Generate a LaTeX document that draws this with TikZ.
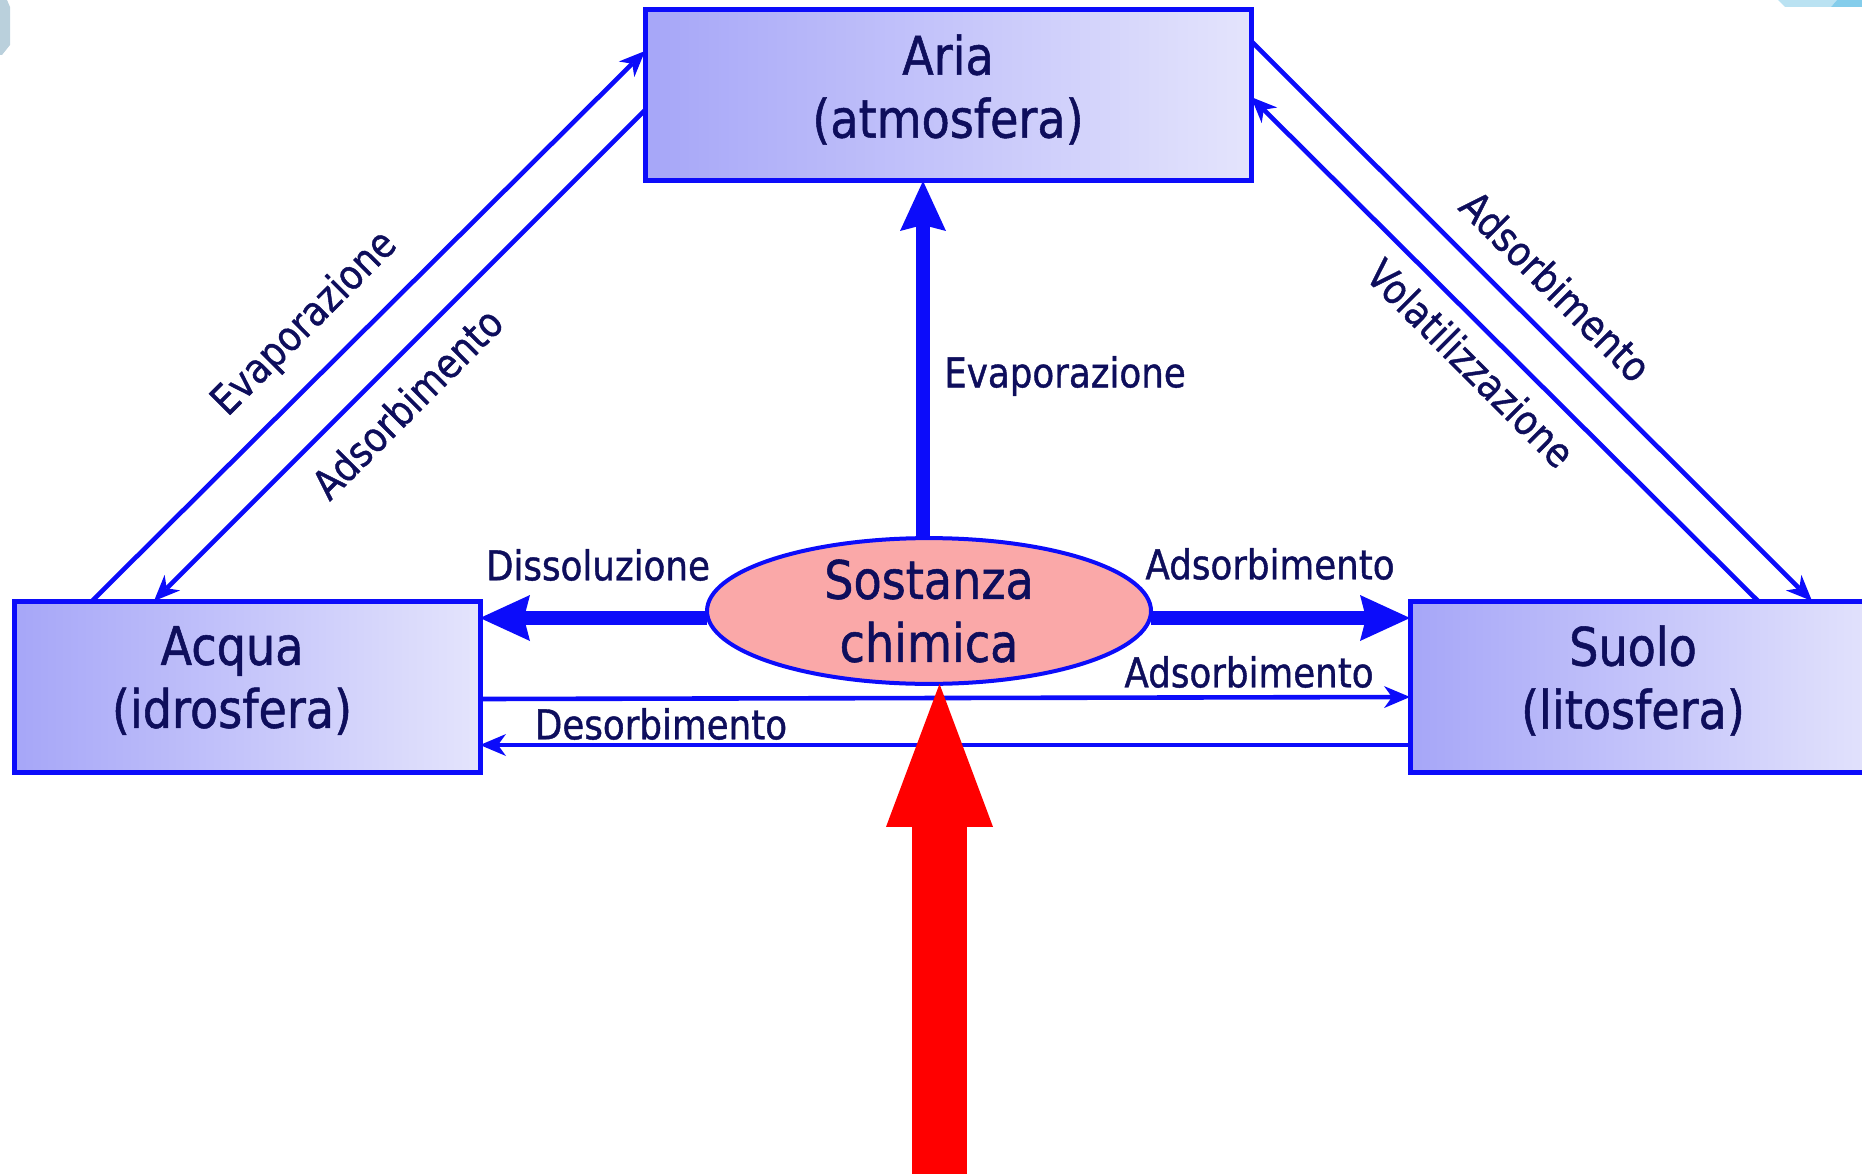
\documentclass[tikz,border=0pt]{standalone}
\usepackage{fontspec}
\setmainfont[FakeStretch=0.87,FakeBold=1]{DejaVu Sans}
\usetikzlibrary{arrows.meta,shapes.geometric}
\definecolor{lineblue}{RGB}{12,12,250}
\definecolor{ink}{RGB}{14,14,92}
\definecolor{boxl}{RGB}{166,166,248}
\definecolor{boxr}{RGB}{228,228,252}
\definecolor{salmon}{RGB}{250,168,168}
\definecolor{hexgrey}{RGB}{186,208,220}
\definecolor{hexlight}{RGB}{186,226,242}
\definecolor{hexdark}{RGB}{132,205,235}
\begin{document}
\begin{tikzpicture}[x=1pt,y=-1pt,
  sphere/.style={draw=lineblue, line width=5pt, left color=boxl, right color=boxr,
    minimum height=171pt, inner sep=0pt, outer sep=0pt},
  boxtext/.style={text=ink, align=center, font=\fontsize{53}{63}\selectfont, inner sep=0pt},
  lbl/.style={text=ink, font=\fontsize{41}{48}\selectfont, inner sep=0pt},
  thin/.style={draw=lineblue, line width=4.6pt,
    -{Stealth[length=26pt,width=22pt,inset=8pt,line width=0pt]}},
  thick/.style={draw=lineblue, line width=14pt,
    -{Stealth[length=50pt,width=46pt,inset=6pt,line width=0pt]}}]
\clip (0,0) rectangle (1862,1174);
% corner decorations
\fill[hexgrey] (0,0) -- (7,0) -- (10,7) -- (10,45) -- (2,55) -- (0,55) -- cycle;
\fill[hexlight] (1778,0) -- (1837,0) -- (1831,7) -- (1785,7) -- cycle;
\fill[hexdark] (1837,0) -- (1862,0) -- (1862,7) -- (1831,7) -- cycle;
% boxes
\node[sphere, minimum width=606pt] (aria) at (948,95.5) {};
\node[boxtext, yshift=6pt] (ariat) at (aria.center) {Aria\\(atmosfera)};
\node[sphere, minimum width=466pt] (acqua) at (247,686.5) {};
\node[boxtext, yshift=6pt] (acquat) at (232,686.5) {Acqua\\(idrosfera)};
\node[sphere, minimum width=476pt] (suolo) at (1648,686.5) {};
\node[boxtext, yshift=6pt] (suolot) at (1633,686.5) {Suolo\\(litosfera)};
% diagonal connectors
\draw[thin] (acqua.north -| 92,0) -- (aria.west |- 0,51);
\draw[thin] (aria.west |- 0,110) -- (acqua.north -| 154,0);
\draw[thin] (aria.east |- 0,41) -- (suolo.north -| 1812,0);
\draw[thin] (suolo.north -| 1758,0) -- (aria.east |- 0,97);
% horizontal thin connectors
\draw[thin] (acqua.east |- 0,699) -- (suolo.west |- 0,697);
\draw[thin] (suolo.west |- 0,745) -- (acqua.east |- 0,745);
% substance
\node[ellipse, draw=lineblue, line width=4pt, fill=salmon, minimum width=444pt,
  minimum height=140pt, inner sep=0pt, outer sep=0pt, text=ink, align=center,
  font=\fontsize{53}{63}\selectfont] (sost) at (929,611) {Sostanza\\chimica};
\draw[thick] (sost.north -| 923,0) -- (aria.south -| 923,0);
\draw[thick] (sost.west |- 0,618) -- (acqua.east |- 0,618);
\draw[thick] (sost.east |- 0,618) -- (suolo.west |- 0,618);
% red input arrow
\coordinate (redsrc) at (939.5,1200);
\draw[red, line width=55pt, -{Triangle[length=143pt,width=107pt,line width=0pt]}]
  (redsrc) -- (sost.south -| 939.5,0);
% labels
\node[lbl] (l1) at (598,565) {Dissoluzione};
\node[lbl] (l2) at (1270,564) {Adsorbimento};
\node[lbl] (l3) at (1249,672) {Adsorbimento};
\node[lbl] (l4) at (661,724) {Desorbimento};
\node[lbl] (l5) at (1065,376) {Evaporazione};
\node[lbl, rotate=45] (l6) at (305,324) {Evaporazione};
\node[lbl, rotate=45] (l7) at (407,403) {Adsorbimento};
\node[lbl, rotate=-45] (l8) at (1556,286) {Adsorbimento};
\node[lbl, rotate=-45] (l9) at (1471,363) {Volatilizzazione};
\end{tikzpicture}
\end{document}
